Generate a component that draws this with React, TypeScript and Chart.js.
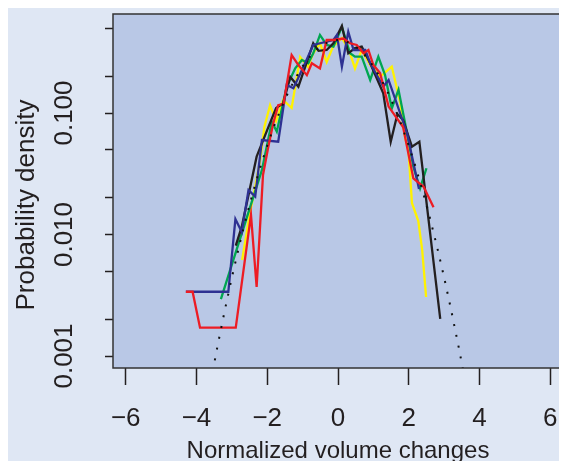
import React, { useEffect, useRef } from 'react';
import { Chart, registerables } from 'chart.js';

Chart.register(...registerables);

// ---- data ----
const redX = [-4.30, -4.11, -3.90, -2.89, -2.46, -2.30, -2.12, -1.97, -1.83, -1.69, -1.54, -1.31, -1.12, -0.88, -0.74, -0.51, -0.32, -0.13, 0.15, 0.34, 0.53, 0.72, 0.86, 1.00, 1.19, 1.43, 1.84, 2.13, 2.42, 2.70];
const redY = [0.00338, 0.00338, 0.00171, 0.00171, 0.0145, 0.0037, 0.0309, 0.0528, 0.0822, 0.116, 0.119, 0.300, 0.248, 0.205, 0.257, 0.233, 0.399, 0.399, 0.41, 0.375, 0.363, 0.31, 0.33, 0.248, 0.213, 0.113, 0.0767, 0.029, 0.0247, 0.0168];

const greenX = [-3.31, -2.15, -1.87, -1.73, -1.45, -1.21, -1.02, -0.84, -0.70, -0.51, -0.32, -0.13, 0.11, 0.34, 0.48, 0.67, 0.91, 1.14, 1.33, 1.52, 1.71, 1.99, 2.13, 2.32, 2.50];
const greenY = [0.00294, 0.034, 0.0848, 0.0702, 0.165, 0.233, 0.273, 0.257, 0.31, 0.439, 0.363, 0.352, 0.51, 0.31, 0.291, 0.291, 0.187, 0.291, 0.205, 0.109, 0.155, 0.0599, 0.0361, 0.024, 0.0351];

const yellowX = [-2.71, -2.49, -2.34, -2.20, -2.08, -1.92, -1.75, -1.55, -1.31, -1.07, -0.85, -0.70, -0.51, -0.32, -0.14, 0.11, 0.29, 0.48, 0.67, 0.91, 1.19, 1.52, 1.76, 1.90, 1.99, 2.09, 2.27, 2.38, 2.49];
const yellowY = [0.00617, 0.0150, 0.0247, 0.041, 0.0771, 0.116, 0.086, 0.128, 0.110, 0.289, 0.239, 0.31, 0.375, 0.263, 0.352, 0.414, 0.343, 0.233, 0.33, 0.248, 0.198, 0.241, 0.121, 0.0623, 0.0496, 0.0182, 0.0129, 0.00745, 0.00306];

const blueX = [-4.30, -3.10, -2.90, -2.72, -2.53, -2.34, -2.15, -1.69, -1.45, -1.26, -0.95, -0.70, -0.13, -0.03, 0.11, 0.29, 0.44, 0.77, 0.91, 1.28, 1.43, 1.95, 2.29];
const blueY = [0.00338, 0.00338, 0.0134, 0.0105, 0.0232, 0.0205, 0.0599, 0.058, 0.17, 0.16, 0.25, 0.363, 0.399, 0.439, 0.241, 0.467, 0.33, 0.33, 0.257, 0.165, 0.187, 0.0685, 0.0237];

const blackX = [-2.89, -2.72, -2.30, -1.98, -1.75, -1.55, -1.35, -1.12, -0.70, -0.55, -0.32, -0.13, 0.11, 0.29, 0.48, 0.67, 0.91, 1.28, 1.49, 1.68, 1.84, 2.09, 2.30, 2.89];
const blackY = [0.00809, 0.0116, 0.0437, 0.075, 0.11, 0.12, 0.198, 0.165, 0.375, 0.325, 0.33, 0.375, 0.52, 0.31, 0.343, 0.352, 0.257, 0.145, 0.058, 0.098, 0.0875, 0.0528, 0.058, 0.00202];

// dotted reference curve
const dottedX = [-3.6, -3.4, -3.2, -3.0, -2.8, -2.6, -2.4, -2.2, -2.0, -1.8, -1.6, -1.4, -1.2, -1.0, -0.8, -0.6, -0.4, -0.2, 0, 0.2, 0.4, 0.6, 0.8, 1.0, 1.2, 1.4, 1.6, 1.8, 2.0, 2.2, 2.4, 2.6, 2.8, 3.0, 3.2, 3.4, 3.6];
const dottedY = [0.000612, 0.00123, 0.00238, 0.00443, 0.00792, 0.0136, 0.0224, 0.0355, 0.054, 0.079, 0.1109, 0.1497, 0.1942, 0.242, 0.2897, 0.3332, 0.3683, 0.391, 0.3989, 0.391, 0.3683, 0.3332, 0.2897, 0.242, 0.1942, 0.1497, 0.1109, 0.079, 0.054, 0.0355, 0.0224, 0.0136, 0.00792, 0.00443, 0.00238, 0.00123, 0.000612];

const xTickValues = [-6, -4, -2, 0, 2, 4, 6];
const yTickMarks = [0.001, 0.002, 0.005, 0.01, 0.02, 0.05, 0.1, 0.2, 0.5];
const yLabelValues = [0.001, 0.01, 0.1];
const yLabelTexts = ['0.001', '0.010', '0.100'];
const xTitle = 'Normalized volume changes';
const yTitle = 'Probability density';

const X_MIN = -6.36;
const X_MAX = 6.36;
const Y_MIN = 0.000797;
const Y_MAX = 0.653;

const FONT = "'Liberation Sans', Arial, Helvetica, sans-serif";
const OUTER_BG = '#dfe7f4';
const PLOT_BG = '#b9c8e6';
const INK = '#231f20';

const pts = (xs: number[], ys: number[]) => xs.map((x, i) => ({ x, y: ys[i] }));

const fmtX = (v: number) => (v < 0 ? '\u2212' + Math.abs(v) : String(v));

const panelPlugin = {
  id: 'panelPlugin',
  beforeDraw(chart: any) {
    const { ctx, chartArea: a, width, height } = chart;
    ctx.save();
    ctx.fillStyle = OUTER_BG;
    ctx.fillRect(0, 0, width, height);
    ctx.fillStyle = PLOT_BG;
    ctx.fillRect(a.left, a.top, a.right - a.left, a.bottom - a.top);
    ctx.restore();
  },
  afterDraw(chart: any) {
    const { ctx, chartArea: a } = chart;
    ctx.save();
    ctx.strokeStyle = '#333';
    ctx.lineWidth = 1.5;
    ctx.strokeRect(a.left, a.top, a.right - a.left, a.bottom - a.top);
    const ys = chart.scales.y;
    ctx.fillStyle = INK;
    ctx.textAlign = 'center';
    ctx.textBaseline = 'middle';
    // rotated y tick labels
    ctx.font = `26px ${FONT}`;
    yLabelValues.forEach((v, i) => {
      const py = ys.getPixelForValue(v);
      ctx.save();
      ctx.translate(57, py);
      ctx.rotate(-Math.PI / 2);
      ctx.fillText(yLabelTexts[i], 0, 0);
      ctx.restore();
    });
    // y axis title
    ctx.font = `26px ${FONT}`;
    ctx.save();
    ctx.translate(19, (a.top + a.bottom) / 2 + 14);
    ctx.rotate(-Math.PI / 2);
    ctx.fillText(yTitle, 0, 0);
    ctx.restore();
    ctx.restore();
  },
};

export default function App() {
  const ref = useRef<HTMLCanvasElement | null>(null);
  useEffect(() => {
    if (!ref.current) return;
    const line = (data: any, color: string, extra: any = {}) => ({
      data,
      borderColor: color,
      borderWidth: 2.3,
      pointRadius: 0,
      tension: 0,
      fill: false,
      clip: 0,
      ...extra,
    });
    const chart = new Chart(ref.current, {
      type: 'line',
      data: {
        datasets: [
          line(pts(dottedX, dottedY), '#111', { borderDash: [2, 9], borderWidth: 2 }),
          line(pts(redX, redY), '#ed1c24'),
          line(pts(blueX, blueY), '#2e3192'),
          line(pts(blackX, blackY), INK),
          line(pts(greenX, greenY), '#00a651'),
          line(pts(yellowX, yellowY), '#fff200'),
        ],
      },
      options: {
        animation: false,
        responsive: false,
        maintainAspectRatio: false,
        devicePixelRatio: 1,
        layout: { padding: { left: 0, top: 6, right: 4, bottom: 0 } },
        plugins: { legend: { display: false }, tooltip: { enabled: false } },
        scales: {
          x: {
            type: 'linear',
            min: X_MIN,
            max: X_MAX,
            afterBuildTicks: (s: any) => {
              s.ticks = xTickValues.map((v) => ({ value: v }));
            },
            afterFit: (s: any) => {
              s.height = 93;
              s.paddingLeft = 0;
              s.paddingRight = 0;
            },
            border: { display: false },
            grid: {
              drawOnChartArea: false,
              drawTicks: true,
              tickLength: 17,
              tickWidth: 1.5,
              tickColor: INK,
              color: INK,
            },
            ticks: {
              autoSkip: false,
              maxRotation: 0,
              minRotation: 0,
              padding: 18,
              color: INK,
              font: { family: FONT, size: 26 },
              callback: (v: any) => fmtX(Number(v)),
            },
            title: {
              display: true,
              text: xTitle,
              color: INK,
              font: { family: FONT, size: 24, lineHeight: 0.78 },
              padding: 0,
            },
          },
          y: {
            type: 'logarithmic',
            min: Y_MIN,
            max: Y_MAX,
            afterBuildTicks: (s: any) => {
              s.ticks = yTickMarks.map((v) => ({ value: v }));
            },
            afterFit: (s: any) => {
              s.width = 105;
              s.paddingTop = 0;
              s.paddingBottom = 0;
            },
            border: { display: false },
            grid: {
              drawOnChartArea: false,
              drawTicks: true,
              tickLength: 8,
              tickWidth: 1.5,
              tickColor: INK,
              color: INK,
            },
            ticks: { display: false },
            title: { display: false },
          },
        },
      },
      plugins: [panelPlugin],
    } as any);
    return () => chart.destroy();
  }, []);
  return <canvas ref={ref} width={559} height={453} style={{ display: 'block' }} />;
}
